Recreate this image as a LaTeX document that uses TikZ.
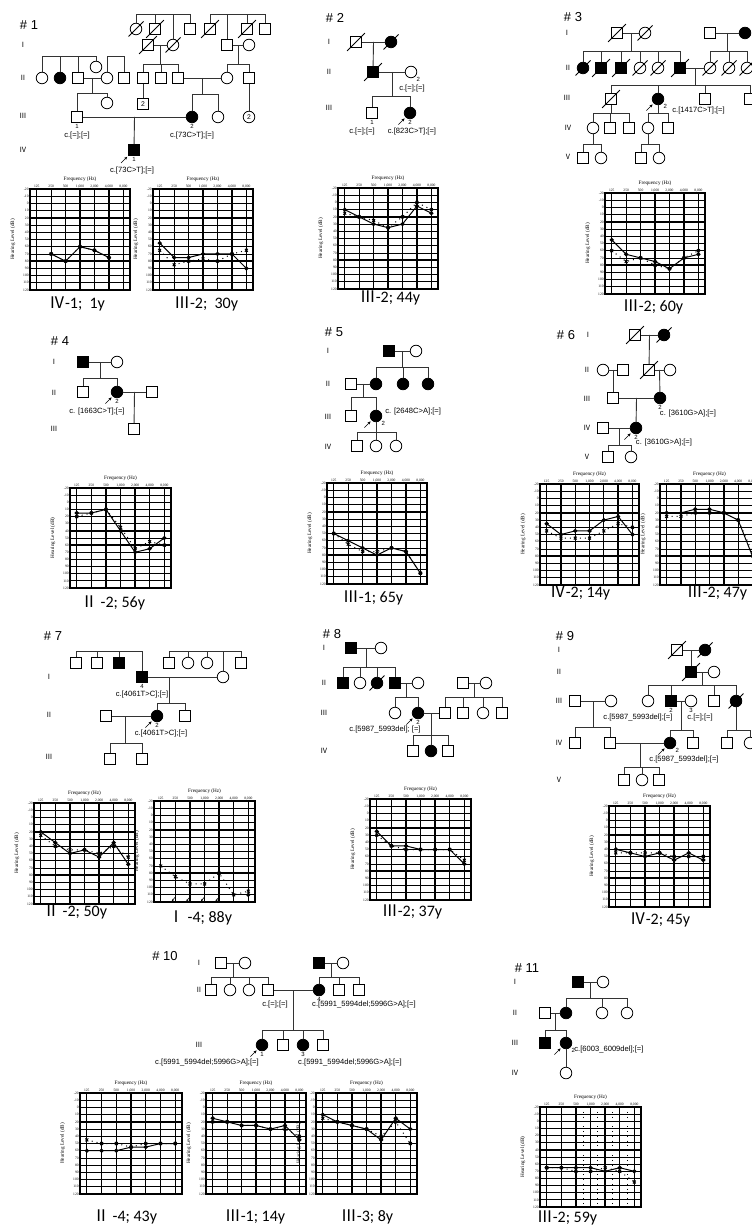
\documentclass[tikz,border=0pt]{standalone}
\usepackage{fontspec}
\setmainfont{Liberation Serif}
\newfontfamily\arial{Liberation Sans}
\newfontfamily\calib{Carlito}
\newfontfamily\cjk{Noto Sans CJK SC}
\usetikzlibrary{arrows.meta,calc}

\tikzset{
  sq/.style={draw,rectangle,minimum size=5.4pt,inner sep=0pt,fill=white,line width=.4pt},
  ci/.style={draw,circle,minimum size=5.8pt,inner sep=0pt,fill=white,line width=.4pt},
  aff/.style={fill=black},
  slash/.style={draw,-,line width=.4pt,shorten <=-2.2pt,shorten >=-2.2pt},
  dead/.style={append after command={(\tikzlastnode.south west) edge[slash] (\tikzlastnode.north east)}},
  pbarrow/.style={draw,-{Stealth[length=1.6pt,width=1.4pt]},line width=.3pt},
  pb/.style={append after command={([shift={(-3.6pt,-3.6pt)}]\tikzlastnode.south west) edge[pbarrow] ([shift={(-.5pt,-.5pt)}]\tikzlastnode.south west)}},
  rel/.style={draw=black!80,line width=.45pt},
  num/.style={font=\arial\fontsize{3}{3}\selectfont,inner sep=.4pt},
  cnt/.style={font=\arial\fontsize{3.4}{4}\selectfont},
  mut/.style={font=\arial\fontsize{3.8}{4}\selectfont,inner sep=0pt},
  genl/.style={font=\cjk\fontsize{3.6}{4}\selectfont,inner sep=0pt},
  ttl/.style={font=\arial\fontsize{6.5}{7}\selectfont,inner sep=0pt},
  capt/.style={font=\calib\fontsize{8}{9}\selectfont,inner sep=0pt},
  tk/.style={font=\fontsize{1.8}{2}\selectfont,inner sep=.5pt},
  axl/.style={font=\fontsize{2.6}{3}\selectfont,inner sep=0pt},
  hline/.style={line width=.4pt},
  hthick/.style={line width=.65pt},
  vline/.style={line width=.65pt},
  sol/.style={line width=.5pt,mark=*,mark size=.8pt},
  dotl/.style={line width=.5pt,dotted,mark=x,mark size=1pt,mark options={solid}},
}

% descent line and sibship bar
\newcommand{\kids}[3]{%
  \draw[rel] (#1) -- (#1 |- 0,#2);
  \foreach \c in {#3} \draw[rel] (\c) |- (#1 |- 0,#2);}
\newcommand{\couple}[4][.5]{%
  \draw[rel] (#2) -- (#3);
  \coordinate (#4) at ($(#2)!#1!(#3)$);}

% audiogram: left, top, width, height (px), data
\newcommand{\audiogram}[5]{%
  \pgfmathsetmacro\ax{0.005*#3}\pgfmathsetmacro\ay{0.5*#4/140}\pgfmathsetmacro\bx{0.005*#3*14.43}%
  \begin{scope}[shift={(#1,#2)},x=\ax pt,y=-\ay pt]
    \foreach \lv in {10,30,...,130} \draw[hline] (0,\lv) -- (100,\lv);
    \foreach \lv in {0,20,...,140} \draw[hthick] (0,\lv) -- (100,\lv);
    \foreach \k in {0,...,6} \draw[vline] ({6.7+14.43*\k},0) -- ({6.7+14.43*\k},140);
    \draw[vline] (0,0) rectangle (100,140);
    \foreach \f [count=\k from 0] in {125,250,500,{1,000},{2,000},{4,000},{8,000}}
      \node[tk,above] at ({6.7+14.43*\k},0) {\f};
    \foreach \lv in {-20,-10,...,120} \node[tk,left] at (0,\lv+20) {\lv};
    \node[axl] at (50,-14) {Frequency (Hz)};
    \node[axl,rotate=90] at (-17,70) {Hearing Level (dB)};
    \begin{scope}[shift={(6.7,20)},x=\bx pt]
      #5
    \end{scope}
  \end{scope}}

\begin{document}
\begin{tikzpicture}[x=.5pt,y=-.5pt]
\useasboundingbox (0,0) rectangle (751,1229);

% ---------- family 1
\node[ttl] (t1) at (29,25) {\# 1};
\node[genl] (g1a) at (23,45) {Ⅰ};
\node[genl] (g1b) at (23,78) {Ⅱ};
\node[genl] (g1c) at (23,116) {Ⅲ};
\node[genl] (g1d) at (23,150) {Ⅳ};
\node[ci,dead] (f1o1) at (136,29) {};
\node[sq,dead] (f1o2) at (155,29) {};
\node[sq] (f1o3) at (190,29) {};
\node[sq,dead] (f1o4) at (210,29) {};
\node[sq,dead] (f1o5) at (247,29) {};
\node[sq] (f1o6) at (265,29) {};
\node[sq,dead] (f1i1) at (148,45) {};
\node[ci,dead] (f1i2) at (173,45) {};
\node[sq] (f1i3) at (227,45) {};
\node[ci] (f1i4) at (249,45) {};
\node[ci] (f1ii1) at (42,78) {};
\node[ci,aff] (f1ii2) at (60,78) {};
\node[sq] (f1ii3) at (78,78) {};
\node[ci] (f1ii4) at (96,67) {};
\node[ci] (f1ii5) at (107,78) {};
\node[sq] (f1ii6) at (124,78) {};
\node[sq] (f1ii7) at (143,78) {};
\node[sq] (f1ii8) at (161,78) {};
\node[sq] (f1ii9) at (178,78) {};
\node[ci] (f1ii10) at (227,78) {};
\node[sq] (f1ii11) at (249,78) {};
\node[sq,label={[num]below:1}] (f1iii1) at (77,117) {};
\node[ci] (f1iii2) at (107,103) {};
\node[sq,cnt] (f1iii3) at (143,104) {2};
\node[ci,aff,label={[num]below:2}] (f1iii4) at (192,117) {};
\node[ci] (f1iii5) at (218,117) {};
\node[ci,cnt] (f1iii6) at (249,117) {2};
\node[sq,aff,pb,label={[num]below:1}] (f1iv1) at (134,150) {};
\coordinate (f1b1) at (173,14);
\coordinate (f1b2) at (227,14);
\coordinate (f1b3) at (69,56);
\coordinate (f1b4) at (115,56);
\kids{f1b1}{14}{f1o1,f1o2,f1i2,f1o3}
\kids{f1b2}{14}{f1o4,f1i3,f1o5,f1o6}
\kids{f1b3}{56}{f1ii1,f1ii2,f1ii3,f1ii4}
\kids{f1b4}{56}{f1ii5,f1ii6}
\couple{f1i1}{f1i2}{f1m1}
\kids{f1m1}{64}{f1ii7,f1ii8,f1ii9}
\couple{f1i3}{f1i4}{f1m2}
\kids{f1m2}{64}{f1ii10,f1ii11}
\couple{f1ii3}{f1ii5}{f1m3}
\kids{f1m3}{93}{f1iii1,f1iii2}
\couple{f1ii9}{f1ii10}{f1m4}
\kids{f1m4}{94}{f1iii4,f1iii5}
\draw[rel] (f1ii7) -- (f1iii3);
\draw[rel] (f1ii11) -- (f1iii6);
\couple{f1iii1}{f1iii4}{f1m5}
\draw[rel] (f1m5) -- (f1iv1);
\node[mut] (f1c1) at (77,136) {c.[=];[=]};
\node[mut] (f1c2) at (192,136) {c.[73C>T];[=]};
\node[mut] (f1c3) at (132,171) {c.[73C>T];[=]};
\audiogram{30}{189}{100}{101}{%
  \draw[dotl] plot coordinates {(1,70) (2,80) (3,60) (4,65) (5,75)};
  \draw[sol] plot coordinates {(1,70) (2,80) (3,60) (4,65) (5,75)};}
\audiogram{153}{189}{100}{101}{%
  \draw[dotl] plot coordinates {(0,65) (1,85) (2,80) (3,77) (4,80) (5,70) (6,65)};
  \draw[sol] plot coordinates {(0,55) (1,75) (2,75) (3,70) (4,70) (5,70) (6,90)};}
\node[capt] (a1) at (77,304) {{\cjk Ⅳ}-1;\ \ 1y};
\node[capt] (a2) at (206,304) {{\cjk Ⅲ}-2;\ \ 30y};

% ---------- family 2
\node[ttl] (t2) at (335,18) {\# 2};
\node[genl] (g2a) at (329,42) {Ⅰ};
\node[genl] (g2b) at (329,72) {Ⅱ};
\node[genl] (g2c) at (329,108) {Ⅲ};
\node[sq,dead] (f2i1) at (356,42) {};
\node[ci,aff,dead] (f2i2) at (391,42) {};
\node[sq,aff,dead] (f2ii1) at (373,72) {};
\node[ci,label={[num]below right:2}] (f2ii2) at (411,72) {};
\node[sq,label={[num]below:1}] (f2iii1) at (372,113) {};
\node[ci,aff,pb,label={[num]below:2}] (f2iii2) at (410,113) {};
\couple{f2i1}{f2i2}{f2m1}
\draw[rel] (f2m1) -- (f2ii1);
\couple{f2ii1}{f2ii2}{f2m2}
\kids{f2m2}{96}{f2iii1,f2iii2}
\node[mut] (f2c1) at (412,89) {c.[=];[=]};
\node[mut] (f2c2) at (362,132) {c.[=];[=]};
\node[mut] (f2c3) at (412,132) {c.[823C>T];[=]};
\audiogram{338}{188}{100}{101}{%
  \draw[dotl] plot coordinates {(0,15) (1,20) (2,25) (3,35) (4,20) (5,0) (6,10)};
  \draw[sol] plot coordinates {(0,10) (1,20) (2,30) (3,35) (4,30) (5,5) (6,15)};}
\node[capt] (a3) at (390,298) {{\cjk Ⅲ}-2; 44y};

% ---------- family 3
\node[ttl] (t3) at (573,17) {\# 3};
\node[genl] (g3a) at (567,33) {Ⅰ};
\node[genl] (g3b) at (568,68) {Ⅱ};
\node[genl] (g3c) at (567,98) {Ⅲ};
\node[genl] (g3d) at (568,128) {Ⅳ};
\node[genl] (g3e) at (568,157) {Ⅴ};
\node[sq,dead] (f3i1) at (617,33) {};
\node[ci,dead] (f3i2) at (645,33) {};
\node[sq] (f3i3) at (710,33) {};
\node[ci,aff] (f3i4) at (745,33) {};
\node[ci,aff,dead] (f3ii1) at (583,68) {};
\node[sq,aff,dead] (f3ii2) at (601,68) {};
\node[sq,aff,dead] (f3ii3) at (621,68) {};
\node[ci,dead] (f3ii4) at (640,68) {};
\node[ci,dead] (f3ii5) at (658,68) {};
\node[sq,aff,dead] (f3ii6) at (680,68) {};
\node[ci,dead] (f3ii7) at (710,68) {};
\node[ci,dead] (f3ii8) at (729,68) {};
\node[ci,dead] (f3ii9) at (747,68) {};
\node[sq,dead] (f3iii1) at (611,99) {};
\node[ci,aff,pb,label={[num]below right:2}] (f3iii2) at (658,99) {};
\node[sq] (f3iii3) at (705,99) {};
\node[sq] (f3iii4) at (750,99) {};
\node[ci] (f3iv1) at (593,128) {};
\node[sq] (f3iv2) at (610,128) {};
\node[sq] (f3iv3) at (629,128) {};
\node[ci] (f3iv4) at (648,128) {};
\node[sq] (f3iv5) at (668,128) {};
\node[sq] (f3v1) at (583,158) {};
\node[ci] (f3v2) at (601,158) {};
\node[sq] (f3v3) at (641,158) {};
\node[ci] (f3v4) at (659,158) {};
\couple{f3i1}{f3i2}{f3m1}
\kids{f3m1}{51}{f3ii1,f3ii2,f3ii3,f3ii4,f3ii5,f3ii6}
\couple{f3i3}{f3i4}{f3m2}
\kids{f3m2}{51}{f3ii7,f3ii8,f3ii9}
\couple{f3ii6}{f3ii7}{f3m3}
\kids{f3m3}{85}{f3iii1,f3iii2,f3iii3,f3iii4}
\kids{f3iii1}{113}{f3iv1,f3iv2,f3iv3}
\kids{f3iii2}{113}{f3iv4,f3iv5}
\kids{f3iv1}{144}{f3v1,f3v2}
\kids{f3iv4}{144}{f3v3,f3v4}
\node[mut,anchor=west] (f3c1) at (672,111) {c.[1417C>T];[=]};
\audiogram{605}{193}{100}{101}{%
  \draw[dotl] plot coordinates {(0,60) (1,75) (2,70) (3,80) (4,85) (5,70) (6,60)};
  \draw[sol] plot coordinates {(0,45) (1,65) (2,70) (3,75) (4,85) (5,70) (6,65)};}
\node[capt] (a4) at (653,307) {{\cjk Ⅲ}-2; 60y};

% ---------- family 4
\node[ttl] (t4) at (60,341) {\# 4};
\node[genl] (g4a) at (54,362) {Ⅰ};
\node[genl] (g4b) at (54,393) {Ⅱ};
\node[genl] (g4c) at (54,429) {Ⅲ};
\node[sq,aff] (f4i1) at (83,362) {};
\node[ci] (f4i2) at (117,362) {};
\node[sq] (f4ii1) at (83,392) {};
\node[ci,aff,pb,label={[num]below:2}] (f4ii2) at (117,392) {};
\node[sq] (f4ii3) at (152,392) {};
\node[sq] (f4iii1) at (134,429) {};
\couple{f4i1}{f4i2}{f4m1}
\kids{f4m1}{378}{f4ii1,f4ii2}
\couple{f4ii2}{f4ii3}{f4m2}
\draw[rel] (f4m2) -- (f4iii1);
\node[mut] (f4c1) at (97,412) {c. [1663C>T];[=]};
\audiogram{70}{488}{101}{100}{%
  \draw[dotl] plot coordinates {(0,20) (1,15) (2,10) (3,35) (4,65) (5,55) (6,60)};
  \draw[sol] plot coordinates {(0,15) (1,15) (2,10) (3,40) (4,70) (5,65) (6,50)};}
\node[capt] (a5) at (113,603) {{\cjk Ⅱ} -2; 56y};

% ---------- family 5
\node[ttl] (t5) at (334,332) {\# 5};
\node[genl] (g5a) at (328,351) {Ⅰ};
\node[genl] (g5b) at (328,384) {Ⅱ};
\node[genl] (g5c) at (328,417) {Ⅲ};
\node[genl] (g5d) at (328,447) {Ⅳ};
\node[sq,aff] (f5i1) at (389,351) {};
\node[ci] (f5i2) at (416,351) {};
\node[sq] (f5ii1) at (351,384) {};
\node[ci,aff] (f5ii2) at (376,384) {};
\node[ci,aff] (f5ii3) at (403,384) {};
\node[ci,aff] (f5ii4) at (428,384) {};
\node[sq] (f5iii1) at (351,416) {};
\node[ci,aff,pb,label={[num]below right:2}] (f5iii2) at (376,416) {};
\node[sq] (f5iv1) at (357,446) {};
\node[ci] (f5iv2) at (376,446) {};
\node[ci] (f5iv3) at (396,446) {};
\couple{f5i1}{f5i2}{f5m1}
\kids{f5m1}{367}{f5ii2,f5ii3,f5ii4}
\couple{f5ii1}{f5ii2}{f5m2}
\kids{f5m2}{397}{f5iii1,f5iii2}
\kids{f5iii2}{432}{f5iv1,f5iv2,f5iv3}
\node[mut,anchor=west] (f5c1) at (385,412) {c. [2648C>A];[=]};
\audiogram{327}{483}{100}{101}{%
  \draw[dotl] plot coordinates {(0,50) (1,65) (2,75) (3,75) (4,70) (5,75) (6,105)};
  \draw[sol] plot coordinates {(0,50) (1,60) (2,70) (3,80) (4,70) (5,75) (6,105)};}
\node[capt] (a6) at (373,598) {{\cjk Ⅲ}-1; 65y};

% ---------- family 6
\node[ttl] (t6) at (566,335) {\# 6};
\node[genl] (g6a) at (588,335) {Ⅰ};
\node[genl] (g6b) at (587,370) {Ⅱ};
\node[genl] (g6c) at (587,399) {Ⅲ};
\node[genl] (g6d) at (587,428) {Ⅳ};
\node[genl] (g6e) at (587,457) {Ⅴ};
\node[sq,dead] (f6i1) at (635,335) {};
\node[ci,aff,dead] (f6i2) at (664,335) {};
\node[ci] (f6ii1) at (603,370) {};
\node[sq] (f6ii2) at (623,370) {};
\node[sq,dead] (f6ii3) at (649,370) {};
\node[ci] (f6ii4) at (670,370) {};
\node[sq] (f6iii1) at (613,398) {};
\node[ci,aff,label={[num]below:2}] (f6iii2) at (660,398) {};
\node[sq] (f6iv1) at (603,428) {};
\node[ci,aff,pb,label={[num]below:2}] (f6iv2) at (636,428) {};
\node[sq] (f6v1) at (608,457) {};
\node[ci] (f6v2) at (631,457) {};
\couple{f6i1}{f6i2}{f6m1}
\draw[rel] (f6m1) -- (f6ii3);
\couple{f6ii1}{f6ii2}{f6m2}
\draw[rel] (f6m2) -- (f6iii1);
\couple{f6ii3}{f6ii4}{f6m3}
\draw[rel] (f6m3) -- (f6iii2);
\couple{f6iii1}{f6iii2}{f6m4}
\draw[rel] (f6m4) -- (f6iv2);
\couple{f6iv1}{f6iv2}{f6m5}
\kids{f6m5}{445}{f6v1,f6v2}
\node[mut] (f6c1) at (688,414) {c. [3610G>A];[=]};
\node[mut] (f6c2) at (664,443) {c. [3610G>A];[=]};
\audiogram{540}{484}{99}{101}{%
  \draw[dotl] plot coordinates {(0,45) (1,55) (2,55) (3,55) (4,45) (5,35) (6,40)};
  \draw[sol] plot coordinates {(0,35) (1,50) (2,45) (3,45) (4,30) (5,25) (6,50)};}
\audiogram{660}{484}{99}{101}{%
  \draw[dotl] plot coordinates {(0,25) (1,25) (2,20) (3,20) (4,20) (5,30) (6,75)};
  \draw[sol] plot coordinates {(0,20) (1,20) (2,15) (3,15) (4,20) (5,30) (6,80)};}
\node[capt] (a7) at (580,593) {{\cjk Ⅳ}-2; 14y};
\node[capt] (a8) at (717,593) {{\cjk Ⅲ}-2; 47y};

% ---------- family 7
\node[ttl] (t7) at (53,636) {\# 7};
\node[genl] (g7a) at (49,677) {Ⅰ};
\node[genl] (g7b) at (49,715) {Ⅱ};
\node[genl] (g7c) at (49,757) {Ⅲ};
\node[sq] (f7o1) at (76,663) {};
\node[sq] (f7o2) at (97,663) {};
\node[sq,aff] (f7o3) at (119,663) {};
\node[sq] (f7o4) at (169,663) {};
\node[ci] (f7o5) at (188,663) {};
\node[ci] (f7o6) at (207,663) {};
\node[sq] (f7o7) at (241,663) {};
\node[sq,aff,label={[num]below:4}] (f7i1) at (142,677) {};
\node[ci] (f7i2) at (223,677) {};
\node[sq] (f7ii1) at (106,716) {};
\node[ci,aff,pb,label={[num]below:2}] (f7ii2) at (157,716) {};
\node[sq] (f7ii3) at (185,716) {};
\node[sq] (f7iii1) at (110,759) {};
\node[sq] (f7iii2) at (142,759) {};
\coordinate (f7b1) at (110,651);
\coordinate (f7b2) at (205,651);
\kids{f7b1}{651}{f7o1,f7o2,f7o3,f7i1}
\kids{f7b2}{651}{f7o4,f7o5,f7o6,f7i2,f7o7}
\couple[.333]{f7i1}{f7i2}{f7m1}
\kids{f7m1}{703}{f7ii2,f7ii3}
\couple[.39]{f7ii1}{f7ii2}{f7m2}
\kids{f7m2}{743}{f7iii1,f7iii2}
\node[mut] (f7c1) at (142,695) {c.[4061T>C];[=]};
\node[mut] (f7c2) at (161,734) {c.[4061T>C];[=]};
\audiogram{34}{803}{101}{101}{%
  \draw[dotl] plot coordinates {(0,25) (1,40) (2,45) (3,45) (4,50) (5,40) (6,55)};
  \draw[sol] plot coordinates {(0,20) (1,35) (2,50) (3,45) (4,55) (5,35) (6,65)};}
\audiogram{154}{801}{101}{101}{%
  \draw[dotl] plot coordinates {(0,70) (1,85) (2,95) (3,95) (4,80) (5,110) (6,105)};
  \foreach \k in {1,2,3,4} \draw[-{Stealth[length=1.2pt,width=1pt]},line width=.3pt] (\k,113) -- ++(-.25,6);
  \draw[sol] plot coordinates {(6,110)};}
\node[capt] (a9) at (75,912) {{\cjk Ⅱ} -2; 50y};
\node[capt] (a10) at (200,918) {{\cjk Ⅰ} -4; 88y};

% ---------- family 8
\node[ttl] (t8) at (332,634) {\# 8};
\node[genl] (g8a) at (324,648) {Ⅰ};
\node[genl] (g8b) at (324,683) {Ⅱ};
\node[genl] (g8c) at (324,713) {Ⅲ};
\node[genl] (g8d) at (324,751) {Ⅳ};
\node[sq,aff] (f8i1) at (351,648) {};
\node[ci] (f8i2) at (381,648) {};
\node[sq,aff] (f8ii1) at (343,683) {};
\node[ci] (f8ii2) at (360,683) {};
\node[ci,aff,dead] (f8ii3) at (377,683) {};
\node[sq,aff] (f8ii4) at (395,683) {};
\node[ci] (f8ii5) at (418,683) {};
\node[sq] (f8ii6) at (463,683) {};
\node[ci] (f8ii7) at (486,683) {};
\node[ci] (f8iii1) at (395,713) {};
\node[ci,aff,pb,label={[num]below:2}] (f8iii2) at (418,713) {};
\node[sq] (f8iii3) at (445,713) {};
\node[sq] (f8iii4) at (463,713) {};
\node[ci] (f8iii5) at (483,713) {};
\node[sq] (f8iii6) at (502,713) {};
\node[sq] (f8iv1) at (413,751) {};
\node[ci,aff] (f8iv2) at (431,751) {};
\node[sq] (f8iv3) at (448,751) {};
\couple{f8i1}{f8i2}{f8m1}
\kids{f8m1}{667}{f8ii1,f8ii2,f8ii3,f8ii4}
\couple{f8ii4}{f8ii5}{f8m2}
\kids{f8m2}{697}{f8iii1,f8iii2}
\couple{f8ii6}{f8ii7}{f8m3}
\kids{f8m3}{697}{f8iii3,f8iii4,f8iii5,f8iii6}
\couple{f8iii2}{f8iii3}{f8m4}
\kids{f8m4}{735}{f8iv1,f8iv2,f8iv3}
\node[mut] (f8c1) at (385,730) {c.[5987\_5993del]; [=]};
\audiogram{370}{799}{101}{101}{%
  \draw[dotl] plot coordinates {(0,30) (1,45) (2,50) (3,50) (4,50) (5,50) (6,65)};
  \draw[sol] plot coordinates {(0,25) (1,45) (2,45) (3,50) (4,50) (5,50) (6,70)};}
\node[capt] (a11) at (412,912) {{\cjk Ⅲ}-2; 37y};

% ---------- family 9
\node[ttl] (t9) at (565,636) {\# 9};
\node[genl] (g9a) at (559,650) {Ⅰ};
\node[genl] (g9b) at (559,672) {Ⅱ};
\node[genl] (g9c) at (559,701) {Ⅲ};
\node[genl] (g9d) at (559,743) {Ⅳ};
\node[genl] (g9e) at (559,780) {Ⅴ};
\node[sq,dead] (f9i1) at (677,650) {};
\node[ci,aff,dead] (f9i2) at (705,650) {};
\node[sq,aff,dead] (f9ii1) at (691,672) {};
\node[ci] (f9ii2) at (714,672) {};
\node[sq] (f9iii1) at (575,701) {};
\node[ci] (f9iii2) at (611,701) {};
\node[ci] (f9iii3) at (648,701) {};
\node[sq,aff,label={[num]below:2}] (f9iii4) at (671,701) {};
\node[ci,label={[num]below:3}] (f9iii5) at (691,701) {};
\node[sq] (f9iii6) at (714,701) {};
\node[ci,aff,dead] (f9iii7) at (736,701) {};
\node[sq] (f9iv1) at (575,743) {};
\node[sq] (f9iv2) at (610,743) {};
\node[ci,aff,pb,label={[num]below right:2}] (f9iv3) at (670,743) {};
\node[sq] (f9iv4) at (693,743) {};
\node[sq] (f9iv5) at (727,743) {};
\node[ci] (f9iv6) at (750,743) {};
\node[sq] (f9v1) at (624,780) {};
\node[ci] (f9v2) at (642,780) {};
\node[sq] (f9v3) at (659,780) {};
\couple{f9i1}{f9i2}{f9m1}
\draw[rel] (f9m1) -- (f9ii1);
\couple{f9ii1}{f9ii2}{f9m2}
\kids{f9m2}{685}{f9iii3,f9iii4,f9iii6,f9iii7}
\couple{f9iii1}{f9iii2}{f9m3}
\kids{f9m3}{727}{f9iv1,f9iv2}
\couple{f9iii4}{f9iii5}{f9m4}
\kids{f9m4}{730}{f9iv3,f9iv4}
\kids{f9iii7}{730}{f9iv5,f9iv6}
\couple{f9iv2}{f9iv3}{f9m5}
\kids{f9m5}{767}{f9v1,f9v2,f9v3}
\node[mut] (f9c1) at (638,718) {c.[5987\_5993del];[=]};
\node[mut] (f9c2) at (700,718) {c.[=];[=]};
\node[mut] (f9c3) at (684,760) {c.[5987\_5993del];[=]};
\audiogram{609}{806}{101}{101}{%
  \draw[dotl] plot coordinates {(0,45) (1,45) (2,45) (3,45) (4,50) (5,50) (6,50)};
  \draw[sol] plot coordinates {(0,40) (1,45) (2,50) (3,45) (4,55) (5,45) (6,55)};}
\node[capt] (a12) at (660,920) {{\cjk Ⅳ}-2; 45y};

% ---------- family 10
\node[ttl] (t10) at (165,956) {\# 10};
\node[genl] (g10a) at (199,963) {Ⅰ};
\node[genl] (g10b) at (199,990) {Ⅱ};
\node[genl] (g10c) at (199,1045) {Ⅲ};
\node[sq] (f10i1) at (221,963) {};
\node[ci] (f10i2) at (245,963) {};
\node[sq,aff] (f10i3) at (319,963) {};
\node[ci] (f10i4) at (343,963) {};
\node[sq] (f10ii1) at (211,990) {};
\node[ci] (f10ii2) at (230,990) {};
\node[ci] (f10ii3) at (249,990) {};
\node[sq] (f10ii4) at (268,990) {};
\node[ci,aff,label={[num]below:4}] (f10ii5) at (319,990) {};
\node[sq] (f10ii6) at (339,990) {};
\node[sq] (f10ii7) at (359,990) {};
\node[ci,aff,pb,label={[num]below:1}] (f10iii1) at (262,1045) {};
\node[sq] (f10iii2) at (283,1045) {};
\node[ci,aff,label={[num]below:3}] (f10iii3) at (303,1045) {};
\node[sq] (f10iii4) at (323,1045) {};
\couple{f10i1}{f10i2}{f10m1}
\kids{f10m1}{977}{f10ii1,f10ii2,f10ii3,f10ii4}
\couple{f10i3}{f10i4}{f10m2}
\kids{f10m2}{977}{f10ii5,f10ii6,f10ii7}
\couple{f10ii4}{f10ii5}{f10m3}
\kids{f10m3}{1030}{f10iii1,f10iii2,f10iii3,f10iii4}
\node[mut] (f10c1) at (275,1005) {c.[=];[=]};
\node[mut] (f10c2) at (364,1005) {c.[5991\_5994del;5996G>A];[=]};
\node[mut] (f10c3) at (207,1063) {c.[5991\_5994del;5996G>A];[=]};
\node[mut] (f10c4) at (350,1063) {c.[5991\_5994del;5996G>A];[=]};
\audiogram{80}{1093}{102}{101}{%
  \draw[dotl] plot coordinates {(0,45) (1,50) (2,50) (3,55) (4,50) (5,50) (6,50)};
  \draw[sol] plot coordinates {(0,60) (1,60) (2,60) (3,55) (4,55) (5,50) (6,50)};}
\audiogram{206}{1093}{100}{101}{%
  \draw[dotl] plot coordinates {(0,20) (1,20) (2,25) (3,25) (4,30) (5,30) (6,40)};
  \draw[sol] plot coordinates {(0,15) (1,20) (2,25) (3,25) (4,30) (5,25) (6,45)};}
\audiogram{316}{1093}{101}{101}{%
  \draw[dotl] plot coordinates {(0,15) (1,20) (2,25) (3,30) (4,40) (5,20) (6,50)};
  \draw[sol] plot coordinates {(0,10) (1,20) (2,25) (3,30) (4,45) (5,15) (6,30)};}
\node[capt] (a13) at (125,1217) {{\cjk Ⅱ} -4; 43y};
\node[capt] (a14) at (255,1217) {{\cjk Ⅲ}-1; 14y};
\node[capt] (a15) at (367,1217) {{\cjk Ⅲ}-3; 8y};

% ---------- family 11
\node[ttl] (t11) at (527,968) {\# 11};
\node[genl] (g11a) at (515,982) {Ⅰ};
\node[genl] (g11b) at (515,1013) {Ⅱ};
\node[genl] (g11c) at (515,1043) {Ⅲ};
\node[genl] (g11d) at (515,1073) {Ⅳ};
\node[sq,aff] (f11i1) at (578,982) {};
\node[ci] (f11i2) at (603,982) {};
\node[sq] (f11ii1) at (545,1013) {};
\node[ci,aff] (f11ii2) at (566,1013) {};
\node[ci] (f11ii3) at (602,1013) {};
\node[ci] (f11ii4) at (627,1013) {};
\node[sq,aff] (f11iii1) at (545,1043) {};
\node[ci,aff,pb,label={[num]below right:2}] (f11iii2) at (566,1043) {};
\node[ci] (f11iv1) at (566,1073) {};
\couple{f11i1}{f11i2}{f11m1}
\kids{f11m1}{998}{f11ii2,f11ii3,f11ii4}
\couple{f11ii1}{f11ii2}{f11m2}
\kids{f11m2}{1030}{f11iii1,f11iii2}
\draw[rel] (f11iii2) -- (f11iv1);
\node[mut,anchor=west] (f11c1) at (574,1050) {c.[6003\_6009del];[=]};
\audiogram{540}{1107}{101}{100}{%
  \foreach \k in {2.5,3.5,4.5,5.5} \draw[dotted,line width=.4pt] (\k,-20) -- (\k,120);
  \draw[dotl] plot coordinates {(0,65) (1,65) (2,70) (3,70) (4,65) (5,70) (6,85)};
  \draw[sol] plot coordinates {(0,65) (1,65) (2,65) (3,65) (4,70) (5,65) (6,70)};}
\node[capt] (a16) at (567,1218) {{\cjk Ⅲ}-2; 59y};
\end{tikzpicture}
\end{document}
